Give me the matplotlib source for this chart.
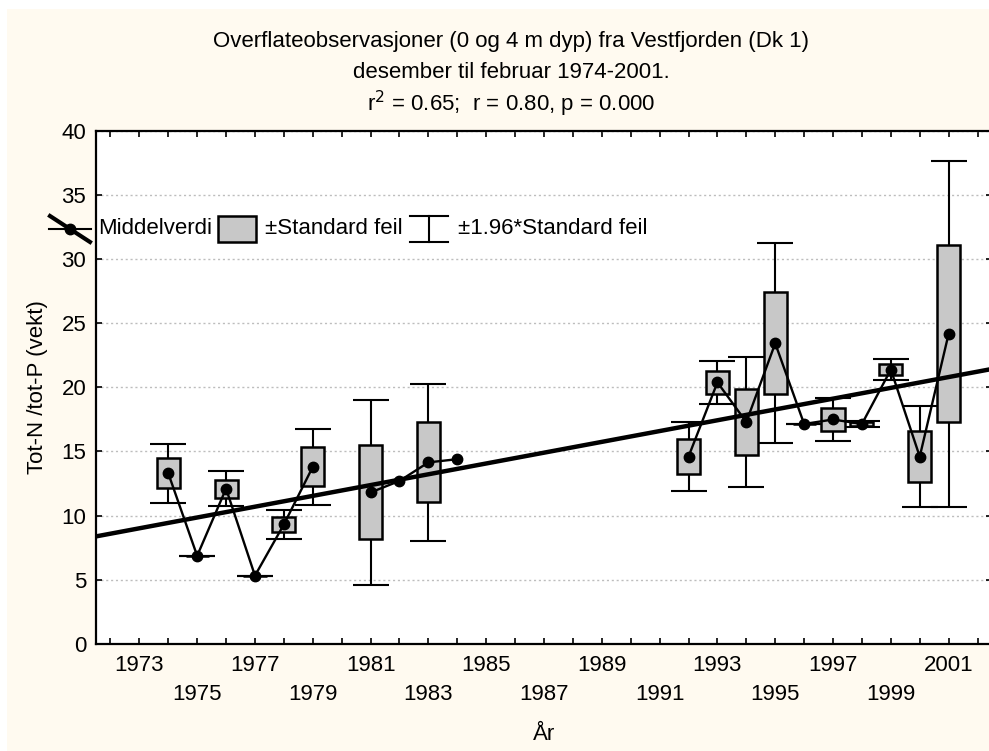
#! /usr/bin/env python3

import matplotlib
matplotlib.use('Agg')
import matplotlib.pyplot as plt
import numpy as np
from matplotlib.lines import Line2D
from matplotlib.patches import Rectangle

plt.rcParams['font.family'] = ['Liberation Sans', 'DejaVu Sans']
plt.rcParams['font.size'] = 16

# yearly mean and standard error (nan = only one observation)
years = [1974, 1975, 1976, 1977, 1978, 1979, 1981, 1982, 1983, 1984,
         1992, 1993, 1994, 1995, 1996, 1997, 1998, 1999, 2000, 2001]
means = [13.3, 6.85, 12.1, 5.3, 9.3, 13.8, 11.8, 12.7, 14.15, 14.4,
         14.6, 20.4, 17.3, 23.45, 17.15, 17.5, 17.15, 21.4, 14.6, 24.2]
stderr = [1.17, 0.0, 0.70, 0.0, 0.57, 1.52, 3.67, np.nan, 3.12, np.nan,
          1.37, 0.87, 2.6, 3.98, 0.0, 0.86, 0.12, 0.43, 2.02, 6.9]

# regression line
trend_1973 = 9.0
trend_slope = 0.422

title1 = "Overflateobservasjoner (0 og 4 m dyp) fra Vestfjorden (Dk 1)"
title2 = "desember til februar 1974-2001."
subtitle = "r$^2$ = 0.65;  r = 0.80, p = 0.000"

W, H = 989, 751
fig = plt.figure(figsize=(W / 100, H / 100), dpi=100)
fig.patch.set_facecolor('white')
fig.add_artist(Rectangle((7 / W, 0), 1, 1 - 9 / H, transform=fig.transFigure,
                         facecolor='#fffaf0', edgecolor='none', zorder=-10))


def px(x, y):
    # pixel position (from top left) to figure fraction
    return x / W, 1 - y / H


ax = fig.add_axes([96 / W, (H - 643.5) / H, 896 / W, 512 / H])
ax.set_facecolor('white')

x = np.array(years, dtype=float)
m = np.array(means)
se = np.array(stderr)
ok = ~np.isnan(se)

ax.errorbar(x[ok], m[ok], yerr=1.96 * se[ok], fmt='none', ecolor='black',
            elinewidth=1.5, capsize=13, capthick=1.5, zorder=2)
ax.bar(x[ok], 2 * se[ok], bottom=m[ok] - se[ok], width=0.8, color='#c8c8c8',
       edgecolor='black', linewidth=1.8, zorder=3)

xl = np.array([1971.5, 2002.5])
ax.plot(xl, trend_1973 + trend_slope * (xl - 1973), color='black', lw=3.2,
        zorder=4, solid_capstyle='butt')

# mean line, broken where years are missing
start = 0
for i in range(1, len(years) + 1):
    if i == len(years) or years[i] - years[i - 1] > 1:
        ax.plot(x[start:i], m[start:i], color='black', lw=1.7, marker='o',
                ms=7.5, zorder=5)
        start = i

ax.set_xlim(1971.5, 2002.5)
ax.set_ylim(0, 40)
ax.set_yticks(range(0, 41, 5))
ticks = list(range(1972, 2003))
labels = []
for t in ticks:
    if t % 2 == 0:
        labels.append('')
    elif ((t - 1973) // 2) % 2 == 0:
        labels.append(str(t))
    else:
        labels.append('\n' + str(t))
ax.set_xticks(ticks)
ax.set_xticklabels(labels)
for lbl in ax.get_xticklabels():
    lbl.set_linespacing(1.5)
ax.tick_params(direction='in', length=4, width=1.2, top=True, right=True)
ax.tick_params(axis='x', pad=8)
ax.tick_params(axis='y', pad=7)
ax.grid(axis='y', color='#bdbdbd', ls=(0, (1.5, 2)), lw=1)
for s in ax.spines.values():
    s.set_linewidth(1.6)

ax.set_xlabel('År', labelpad=14)
ax.set_ylabel('Tot-N /tot-P (vekt)', labelpad=10)

fig.text(511 / W, 1 - 42 / H, title1, ha='center', va='center')
fig.text(511 / W, 1 - 73 / H, title2, ha='center', va='center')
fig.text(511 / W, 1 - 104 / H, subtitle, ha='center', va='center')

# legend, drawn by hand
ly = 229
fig.add_artist(Line2D([px(49, 0)[0], px(91, 0)[0]], [px(0, ly)[1]] * 2,
                      color='black', lw=1.5, transform=fig.transFigure))
fig.add_artist(Line2D([px(50, 0)[0], px(90, 0)[0]],
                      [px(0, ly - 13)[1], px(0, ly + 13)[1]],
                      color='black', lw=3, transform=fig.transFigure))
fig.add_artist(Line2D([px(70, 0)[0]], [px(0, ly)[1]], marker='o', ms=7.5,
                      color='black', transform=fig.transFigure))
fig.text(px(98, 0)[0], px(0, ly)[1], 'Middelverdi', va='center')
fig.add_artist(Rectangle(px(218, ly + 13), 38 / W, 26 / H,
                         facecolor='#c8c8c8', edgecolor='black', lw=1.8,
                         transform=fig.transFigure))
fig.text(px(265, 0)[0], px(0, ly)[1], '±Standard feil', va='center')
for yy in (ly - 13, ly + 13):
    fig.add_artist(Line2D([px(410, 0)[0], px(448, 0)[0]], [px(0, yy)[1]] * 2,
                          color='black', lw=1.5, transform=fig.transFigure))
fig.add_artist(Line2D([px(429, 0)[0]] * 2,
                      [px(0, ly - 13)[1], px(0, ly + 13)[1]],
                      color='black', lw=1.5, transform=fig.transFigure))
fig.text(px(458, 0)[0], px(0, ly)[1], '±1.96*Standard feil', va='center')

fig.savefig('out.png', dpi=100)
